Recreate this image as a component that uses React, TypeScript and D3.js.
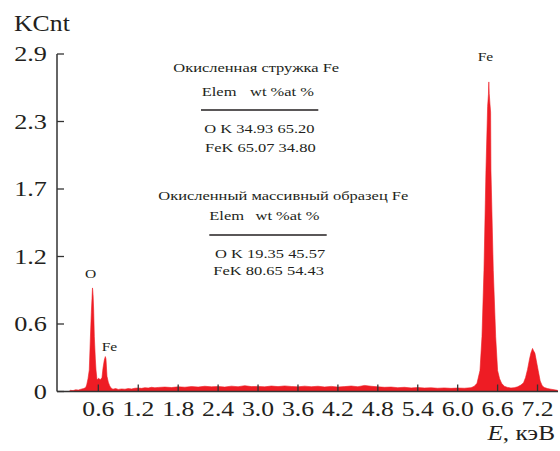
import React, { useEffect, useRef } from 'react';
import * as d3 from 'd3';

// спектр ЭДС, значения (кэВ, KCnt)
const energy = [
  0.16, 0.18, 0.22, 0.26, 0.30, 0.34, 0.38, 0.41, 0.425, 0.445, 0.464, 0.48, 0.495, 0.505, 0.512, 0.516, 0.522, 0.53, 0.54, 0.555, 0.565, 0.58, 0.605, 0.63, 0.655, 0.67, 0.69, 0.705, 0.715, 0.73, 0.75, 0.77, 0.79,
  0.82, 0.86, 0.9, 0.95, 1.0, 1.05, 1.1, 1.15, 1.2, 1.25, 1.3, 1.35, 1.4, 1.45, 1.5, 1.6, 1.7, 1.8, 1.9, 2.0, 2.1, 2.2, 2.3, 2.4, 2.5, 2.6, 2.7, 2.8, 2.9,
  3.0, 3.1, 3.2, 3.3, 3.4, 3.5, 3.6, 3.7, 3.8, 3.9, 4.0, 4.1, 4.2, 4.3, 4.4, 4.5, 4.6, 4.7, 4.8, 4.9, 5.0, 5.1, 5.2, 5.3, 5.4, 5.5, 5.6, 5.7, 5.8, 5.9, 6.0, 6.1,
  6.2, 6.25, 6.29, 6.335, 6.365, 6.395, 6.425, 6.45, 6.462, 6.468, 6.474, 6.485, 6.495, 6.5, 6.535, 6.571, 6.6, 6.63, 6.66, 6.7, 6.75, 6.8, 6.85, 6.9,
  6.95, 6.99, 7.02, 7.05, 7.08, 7.1, 7.125, 7.14, 7.16, 7.18, 7.21, 7.24, 7.27, 7.3, 7.35, 7.4, 7.45, 7.5,
];
const counts = [
  0, 0.01, 0.008, 0.015, 0.012, 0.02, 0.025, 0.035, 0.056, 0.11, 0.185, 0.45, 0.68, 0.8, 0.89, 0.87, 0.82, 0.7, 0.47, 0.28, 0.185, 0.1, 0.113, 0.1, 0.12, 0.2, 0.27, 0.3, 0.28, 0.13, 0.08, 0.05, 0.03,
  0.02, 0.025, 0.018, 0.022, 0.02, 0.025, 0.022, 0.028, 0.03, 0.027, 0.033, 0.03, 0.036, 0.032, 0.035, 0.038, 0.034, 0.04, 0.037, 0.042, 0.038, 0.045, 0.04, 0.043, 0.038, 0.046, 0.041, 0.05, 0.042,
  0.044, 0.04, 0.047, 0.042, 0.048, 0.043, 0.04, 0.046, 0.041, 0.045, 0.039, 0.044, 0.038, 0.042, 0.047, 0.041, 0.052, 0.045, 0.04, 0.036, 0.038, 0.033, 0.036, 0.031, 0.034, 0.03, 0.032, 0.028, 0.031, 0.027, 0.03, 0.028,
  0.033, 0.045, 0.07, 0.18, 0.47, 1.04, 1.9, 2.45, 2.55, 2.66, 2.56, 2.47, 2.4, 1.9, 1.04, 0.47, 0.18, 0.11, 0.07, 0.045, 0.035, 0.03, 0.033, 0.04,
  0.055, 0.075, 0.12, 0.19, 0.28, 0.33, 0.37, 0.35, 0.33, 0.27, 0.18, 0.09, 0.05, 0.035, 0.025, 0.02, 0.015, 0.01,
];

const xTickValues = [0.6, 1.2, 1.8, 2.4, 3.0, 3.6, 4.2, 4.8, 5.4, 6.0, 6.6, 7.2];
const xTickLabels = ['0.6', '1.2', '1.8', '2.4', '3.0', '3.6', '4.2', '4.8', '5.4', '6.0', '6.6', '7.2'];
const yTickValues = [0, 0.58, 1.16, 1.74, 2.32, 2.9];
const yTickLabels = ['0', '0.6', '1.2', '1.7', '2.3', '2.9'];

const table1Title = 'Окисленная стружка Fe';
const table2Title = 'Окисленный массивный образец Fe';
const headerCols = ['Elem', 'wt %at %'];
const table1Rows = ['O K 34.93 65.20', 'FeK 65.07 34.80'];
const table2Rows = ['O K 19.35 45.57', 'FeK 80.65 54.43'];

const W = 560;
const H = 451;
const RED = '#ee1c24';
const INK = '#231f20';
const FONT = '"Liberation Serif", "Times New Roman", serif';

const App = () => {
  const ref = useRef<SVGSVGElement>(null);

  useEffect(() => {
    const svg = d3.select(ref.current);
    svg.selectAll('*').remove();

    const x = d3.scaleLinear().domain([0, 7.5]).range([58.4, 557.5]);
    const y = d3.scaleLinear().domain([0, 2.9]).range([391.5, 54]);

    // текст, растянутый по горизонтали как в исходном рисунке
    const txt = (px: number, py: number, s: string, size: number, anchor = 'start', sx = 1.22) =>
      svg.append('text')
        .attr('transform', `translate(${px},${py}) scale(${sx},1)`)
        .attr('text-anchor', anchor)
        .attr('font-family', FONT)
        .attr('font-size', size)
        .attr('fill', INK)
        .style('white-space', 'pre')
        .text(s);

    const pts = energy.map((e, i) => [e, counts[i]] as [number, number]);
    const area = d3.area<[number, number]>()
      .x(d => x(d[0]))
      .y0(y(0))
      .y1(d => y(d[1]));

    svg.append('path')
      .datum(pts)
      .attr('d', area)
      .attr('fill', RED)
      .attr('stroke', RED)
      .attr('stroke-width', 0.6);

    // оси
    const axisColor = '#333';
    svg.append('line')
      .attr('x1', 57).attr('x2', 57)
      .attr('y1', y(2.9)).attr('y2', y(0))
      .attr('stroke', axisColor).attr('stroke-width', 1.5);
    svg.append('line')
      .attr('x1', 57).attr('x2', 558)
      .attr('y1', y(0)).attr('y2', y(0))
      .attr('stroke', axisColor).attr('stroke-width', 1.5);

    yTickValues.forEach((v, i) => {
      svg.append('line')
        .attr('x1', 57).attr('x2', 64)
        .attr('y1', y(v)).attr('y2', y(v))
        .attr('stroke', axisColor).attr('stroke-width', 1.3);
      txt(47, y(v) + 7, yTickLabels[i], 21, 'end', 1.25);
    });

    xTickValues.forEach((v, i) => {
      svg.append('line')
        .attr('x1', x(v)).attr('x2', x(v))
        .attr('y1', y(0)).attr('y2', y(0) - 7)
        .attr('stroke', axisColor).attr('stroke-width', 1.3);
      txt(x(v), 416, xTickLabels[i], 20.5, 'middle', 1.25);
    });

    txt(14, 31, 'KCnt', 23, 'start', 1.12);

    const xl = txt(555, 440, '', 21, 'end', 1.2);
    xl.append('tspan').attr('font-style', 'italic').text('E');
    xl.append('tspan').text(', кэВ');

    // подписи пиков
    txt(90.5, 278, 'O', 13.5, 'middle', 1.15);
    txt(101.7, 351, 'Fe', 13.5, 'start', 1.15);
    txt(485.5, 61, 'Fe', 13.5, 'middle', 1.15);

    // таблица 1
    txt(173.3, 71.5, table1Title, 13.5);
    txt(201.7, 95.7, headerCols[0], 13.5);
    txt(250, 95.7, headerCols[1], 13.5);
    svg.append('line')
      .attr('x1', 201).attr('x2', 318.3).attr('y1', 110).attr('y2', 110)
      .attr('stroke', INK).attr('stroke-width', 1.5);
    txt(204.3, 133.3, table1Rows[0], 13.5);
    txt(205, 151.7, table1Rows[1], 13.5);

    // таблица 2
    txt(158.3, 200, table2Title, 13.5);
    txt(209.3, 220, headerCols[0], 13.5);
    txt(255.5, 220, headerCols[1], 13.5);
    svg.append('line')
      .attr('x1', 209.3).attr('x2', 326.7).attr('y1', 235).attr('y2', 235)
      .attr('stroke', INK).attr('stroke-width', 1.5);
    txt(215, 257.7, table2Rows[0], 13.5);
    txt(213.3, 275, table2Rows[1], 13.5);
  }, []);

  return (
    <svg
      ref={ref}
      width={W}
      height={H}
      style={{ position: 'absolute', left: 0, top: 0, background: '#fff' }}
    />
  );
};

export default App;
